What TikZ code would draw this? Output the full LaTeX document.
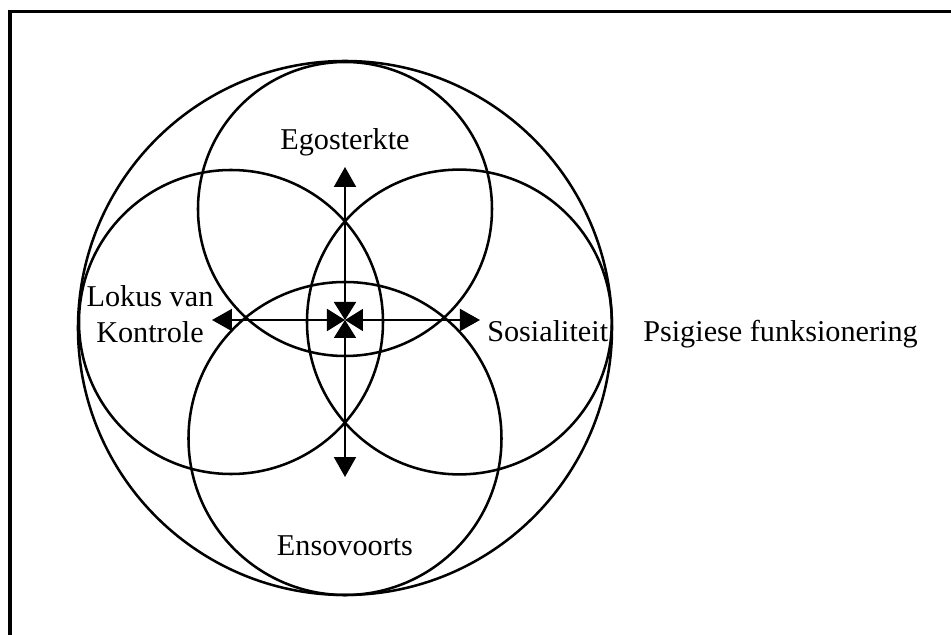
\documentclass[tikz,border=0pt]{standalone}
\usepackage{fontspec}
\setmainfont{Liberation Serif}
\usetikzlibrary{arrows.meta}
\tikzset{
  ring/.style={line width=1.8pt},
  duo/.style={line width=1.4pt, {Triangle[length=0.45cm,width=0.55cm]}-{Triangle[length=0.5cm,width=0.55cm]}},
  lbl/.style={inner sep=0pt, font=\fontsize{21.5}{25}\selectfont}
}
\begin{document}
\begin{tikzpicture}
        \useasboundingbox (-8.625,-7.875) rectangle (15.15,8.0);
        % frame
        \draw [line width=2.2pt] (-8.375,-8.5) -- (-8.375,7.71) -- (15.6,7.71);
        % circles
        \draw [ring] (0,-0.2) circle (6.675);
        \draw [ring] (-2.85,-0.05) circle (3.8);
        \draw [ring] (2.86,-0.05) circle (3.81);
        \draw [ring] (0,2.775) circle (3.675);
        \draw [ring] (0,-2.9625) circle (3.9125);
        % axes
        \coordinate (o) at (0,0);
        \coordinate (west) at (-3.325,0);
        \coordinate (east) at (3.375,0);
        \coordinate (north) at (0,3.825);
        \coordinate (south) at (0,-3.925);
        \draw [duo] (o) -- (west);
        \draw [duo] (o) -- (east);
        \draw [duo] (o) -- (north);
        \draw [duo] (o) -- (south);
        % labels
        \node [lbl, anchor=base] (ego) at (0,4.25) {Egosterkte};
        \node [lbl, anchor=base] (enso) at (0,-5.875) {Ensovoorts};
        \node [lbl, align=center] (lokus) at (-4.875,0.145) {Lokus van\\Kontrole};
        \node [lbl, anchor=base west] (sos) at (3.55,-0.55) {Sosialiteit};
        \node [lbl, anchor=base west] (psig) at (7.45,-0.55) {Psigiese funksionering};
\end{tikzpicture}
\end{document}
